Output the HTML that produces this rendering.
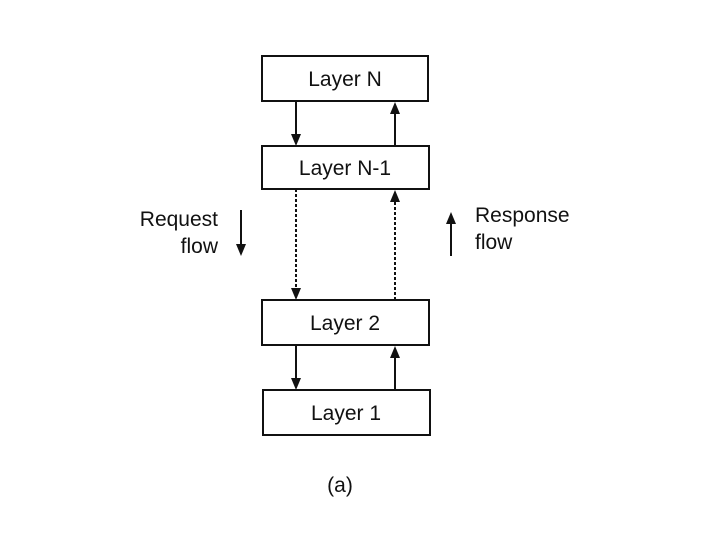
<!DOCTYPE html>
<html><head><style>body{margin:0;background:#fff}</style></head><body>
<svg width="720" height="540" xmlns="http://www.w3.org/2000/svg" font-family="Liberation Sans, sans-serif" font-size="21" fill="#111">
<g fill="none" stroke="#111" stroke-width="2">
<rect x="262" y="56" width="166" height="45"/>
<rect x="262" y="146" width="167" height="43"/>
<rect x="262" y="300" width="167" height="45"/>
<rect x="263" y="390" width="167" height="45"/>
<line x1="296" y1="101" x2="296" y2="136"/>
<line x1="395" y1="146" x2="395" y2="112"/>
<line x1="296" y1="189" x2="296" y2="290" stroke-dasharray="3,2"/>
<line x1="395" y1="300" x2="395" y2="200" stroke-dasharray="3,2"/>
<line x1="296" y1="345" x2="296" y2="380"/>
<line x1="395" y1="390" x2="395" y2="356"/>
<line x1="241" y1="210" x2="241" y2="246"/>
<line x1="451" y1="256" x2="451" y2="222"/>
</g>
<g fill="#111">
<polygon points="291,134 301,134 296,146"/>
<polygon points="390,114 400,114 395,102"/>
<polygon points="291,288 301,288 296,300"/>
<polygon points="390,202 400,202 395,190"/>
<polygon points="291,378 301,378 296,390"/>
<polygon points="390,358 400,358 395,346"/>
<polygon points="236,244 246,244 241,256"/>
<polygon points="446,224 456,224 451,212"/>
</g>
<g text-anchor="middle">
<text x="345" y="86">Layer N</text>
<text x="345" y="175">Layer N-1</text>
<text x="345" y="330">Layer 2</text>
<text x="346" y="420">Layer 1</text>
<text x="340" y="492">(a)</text>
</g>
<text x="218" y="226" text-anchor="end">Request</text>
<text x="218" y="253" text-anchor="end">flow</text>
<text x="475" y="222">Response</text>
<text x="475" y="249">flow</text>
</svg>
</body></html>
